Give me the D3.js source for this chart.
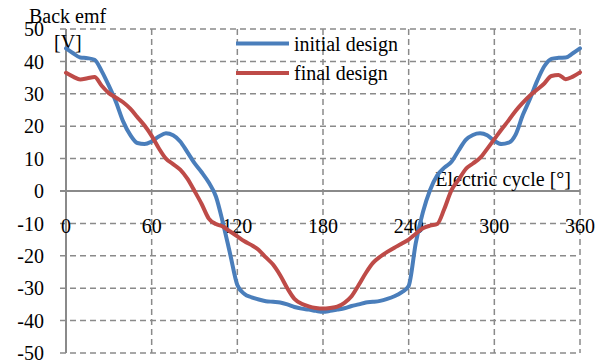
<!DOCTYPE html>
<html>
<head>
<meta charset="utf-8">
<script src="https://cdn.jsdelivr.net/npm/d3@7"></script>
<style>
  html, body { margin: 0; padding: 0; background: #ffffff; }
  svg { display: block; }
  text { font-family: "Liberation Serif", "Times New Roman", serif; font-size: 20px; fill: #000; }
</style>
</head>
<body>
<svg id="chart" width="608" height="362"></svg>
<script>
// Electrical angle, degrees (5° steps over one electric cycle)
const angles = d3.range(0, 361, 5);

// Back emf [V] of the initial design
const initialDesign = [
  44.0, 42.5, 41.2, 41.0, 40.5, 37.0, 32.5, 27.5, 21.5, 17.3,
  14.8, 14.5, 15.3, 16.8, 17.8, 17.2, 15.3, 12.0, 8.6, 5.8,
  2.6, -1.7, -10.0, -19.5, -29.0, -31.8, -32.8, -33.5, -34.0, -34.2,
  -34.4, -35.0, -35.8, -36.3, -36.6, -37.0, -37.3, -37.0, -36.6, -36.2,
  -35.5, -35.0, -34.4, -34.2, -33.9, -33.3, -32.5, -31.3, -29.3, -16.0,
  -6.5, 0.3, 4.8, 7.2, 9.0, 12.5, 15.8, 17.3, 17.8, 17.2,
  15.5, 14.5, 14.9, 17.5, 23.5, 28.5, 34.0, 38.5, 40.8, 41.1,
  41.2, 42.5, 44.0
];

// Back emf [V] of the final design
const finalDesign = [
  36.5, 35.3, 34.4, 34.8, 35.2, 32.5, 30.2, 28.8, 27.4, 25.4,
  22.8, 20.2, 17.0, 13.2, 10.0, 8.3, 6.6, 3.8, 0.0, -4.0,
  -8.5, -10.2, -11.0, -12.5, -14.0, -15.5, -16.7, -18.2, -20.5, -22.7,
  -26.0, -30.0, -33.3, -34.8, -35.6, -36.1, -36.3, -36.1, -35.7, -34.5,
  -32.5, -29.0, -25.3, -22.2, -20.3, -18.8, -17.5, -16.3, -15.0, -13.2,
  -11.5, -10.7, -10.2, -5.5, 0.3, 3.5, 6.8, 8.5, 10.2, 13.0,
  16.0, 19.0, 21.8, 24.8, 27.3, 29.5, 31.3, 33.2, 35.5, 35.8,
  34.5, 35.3, 36.6
];

const xTicks = [0, 60, 120, 180, 240, 300, 360];
const yTicks = [-50, -40, -30, -20, -10, 0, 10, 20, 30, 40, 50];

const seriesNames = ["initial design", "final design"];
const seriesColors = ["#4a7ebb", "#be4b48"];

const svg = d3.select("#chart");

const x = d3.scaleLinear().domain([0, 360]).range([66, 580]);
const y = d3.scaleLinear().domain([-50, 50]).range([353, 29]);

const gridColor = "#8a8a8a";
const dash = "6,4";

// Horizontal gridlines (dashed), extending a little left of the value axis
const grid = svg.append("g");
grid.selectAll("line.h")
  .data(yTicks.filter(d => d !== 0))
  .join("line")
  .attr("x1", x(0) - 6).attr("x2", x(360))
  .attr("y1", d => y(d)).attr("y2", d => y(d))
  .attr("stroke", gridColor).attr("stroke-width", 1.5)
  .attr("stroke-dasharray", dash);

// Vertical gridlines (dashed)
grid.selectAll("line.v")
  .data(xTicks.filter(d => d !== 0))
  .join("line")
  .attr("x1", d => x(d)).attr("x2", d => x(d))
  .attr("y1", y(50)).attr("y2", y(-50))
  .attr("stroke", gridColor).attr("stroke-width", 1.5)
  .attr("stroke-dasharray", dash);

// Solid axes: value axis at 0°, category axis at 0 V
svg.append("line")
  .attr("x1", x(0)).attr("x2", x(0))
  .attr("y1", y(50)).attr("y2", y(-50))
  .attr("stroke", gridColor).attr("stroke-width", 2);
svg.append("line")
  .attr("x1", x(0) - 6).attr("x2", x(360))
  .attr("y1", y(0)).attr("y2", y(0))
  .attr("stroke", gridColor).attr("stroke-width", 2);

// Y tick labels
svg.append("g").selectAll("text")
  .data(yTicks)
  .join("text")
  .attr("x", 44)
  .attr("y", d => y(d))
  .attr("dy", "0.36em")
  .attr("text-anchor", "end")
  .text(d => d);

// X tick labels, placed along the -10 V gridline
svg.append("g").selectAll("text")
  .data(xTicks)
  .join("text")
  .attr("x", d => x(d))
  .attr("y", y(-10) + 2)
  .attr("dy", "0.36em")
  .attr("text-anchor", "middle")
  .text(d => d);

// Axis titles
svg.append("text").attr("x", 29).attr("y", 23).text("Back emf");
svg.append("text").attr("x", 54).attr("y", 49).text("[V]");
svg.append("text").attr("x", 571).attr("y", 186).attr("text-anchor", "end").text("Electric cycle [°]");

// Legend
const legend = svg.append("g");
seriesNames.forEach((name, i) => {
  const ly = 43.5 + i * 29.5;
  legend.append("line")
    .attr("x1", 236).attr("x2", 289)
    .attr("y1", ly).attr("y2", ly)
    .attr("stroke", seriesColors[i]).attr("stroke-width", 4);
  legend.append("text")
    .attr("x", 294).attr("y", ly + 7)
    .text(name);
});

// Curves
const line = d3.line()
  .x(d => x(d[0]))
  .y(d => y(d[1]))
  .curve(d3.curveMonotoneX);

[initialDesign, finalDesign].forEach((vals, i) => {
  svg.append("path")
    .datum(angles.map((a, k) => [a, vals[k]]))
    .attr("d", line)
    .attr("fill", "none")
    .attr("stroke", seriesColors[i])
    .attr("stroke-width", 4)
    .attr("stroke-linejoin", "round")
    .attr("stroke-linecap", "round");
});
</script>
</body>
</html>
